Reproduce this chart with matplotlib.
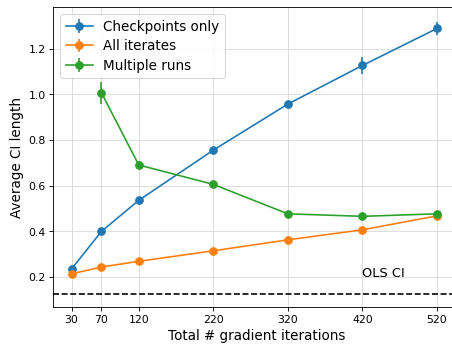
import matplotlib
matplotlib.use("Agg")
import matplotlib.pyplot as plt

iterations = [30, 70, 120, 220, 320, 420, 520]

checkpoints_mean = [0.236, 0.400, 0.536, 0.756, 0.958, 1.127, 1.289]
checkpoints_err = [0.010, 0.006, 0.008, 0.008, 0.008, 0.037, 0.029]

all_iterates_mean = [0.214, 0.244, 0.269, 0.315, 0.363, 0.407, 0.468]
all_iterates_err = [0.005, 0.005, 0.005, 0.005, 0.005, 0.006, 0.008]

runs_iterations = [70, 120, 220, 320, 420, 520]
runs_mean = [1.007, 0.691, 0.606, 0.477, 0.466, 0.477]
runs_err = [0.049, 0.010, 0.008, 0.008, 0.008, 0.010]

ols_ci = 0.126

DPI = 78
fig = plt.figure(figsize=(452.4 / DPI, 347.4 / DPI), dpi=DPI)
ax = fig.add_axes([0.118, 0.1153, 0.8974, 0.862])

ax.errorbar(iterations, checkpoints_mean, yerr=checkpoints_err, marker="o",
            markersize=7, color="C0", label="Checkpoints only")
ax.errorbar(iterations, all_iterates_mean, yerr=all_iterates_err, marker="o",
            markersize=7, color="C1", label="All iterates")
ax.errorbar(runs_iterations, runs_mean, yerr=runs_err, marker="o",
            markersize=7, color="C2", label="Multiple runs")

ax.axhline(ols_ci, color="black", linestyle="--")
ax.text(420, 0.2, "OLS CI", fontsize=12)

ax.set_xticks(iterations)
ax.set_xlim(5.5, 550)
ax.set_ylim(0.069, 1.381)
ax.tick_params(labelsize=10)
ax.grid(True, color="#d9d9d9")
ax.set_axisbelow(True)
ax.spines["right"].set_visible(False)
ax.set_xlabel("Total # gradient iterations", fontsize=12.5, labelpad=4)
ax.set_ylabel("Average CI length", fontsize=12.5)
ax.legend(loc="upper left", fontsize=12.5, labelspacing=0.4)

fig.savefig("out.png", dpi=DPI)
